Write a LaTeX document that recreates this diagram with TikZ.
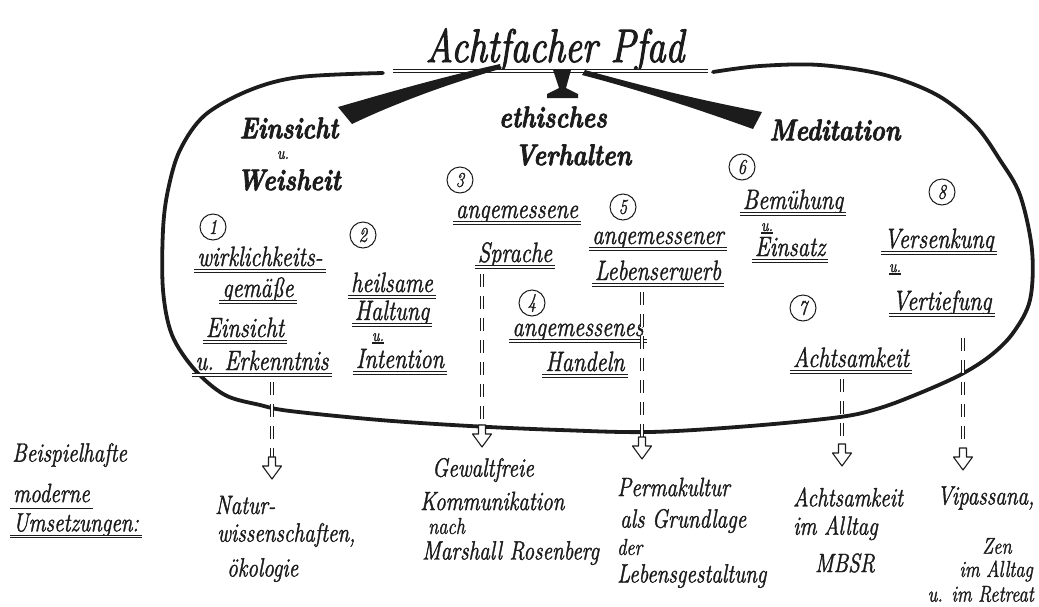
\documentclass[tikz,border=0pt]{standalone}
\usepackage{fontspec}
\newfontfamily\hand[FakeStretch=0.8, FakeBold=1.3]{Latin Modern Roman}
\newfontfamily\handb[FakeStretch=0.8, FakeBold=2.2]{Latin Modern Roman}
\usetikzlibrary{calc}
\definecolor{ink}{HTML}{1C1C1C}
\tikzset{
  x=1pt, y=-1pt,
  titletxt/.style={font=\handb\itshape\fontsize{47}{50}\selectfont, text=ink, inner sep=0pt},
  headtxt/.style={font=\handb\bfseries\itshape\fontsize{30}{33}\selectfont, text=ink, inner sep=0pt},
  itemtxt/.style={font=\hand\itshape\fontsize{28}{30}\selectfont, text=ink, inner sep=0pt},
  smalltxt/.style={font=\hand\itshape\fontsize{18}{20}\selectfont, text=ink, inner sep=0pt},
  bottomtxt/.style={font=\hand\itshape\fontsize{26.5}{28}\selectfont, text=ink, inner sep=0pt},
  bottomsm/.style={font=\hand\itshape\fontsize{23}{25}\selectfont, text=ink, inner sep=0pt},
  numcirc/.style={draw=ink, circle, minimum size=26pt, inner sep=0pt, line width=1pt,
     font=\hand\itshape\fontsize{21}{21}\selectfont, text=ink},
  ul/.style={draw=ink, double, double distance=1.2pt, line width=0.95pt},
  ulsingle/.style={draw=ink, line width=1.1pt},
  bigloop/.style={draw=ink, line width=3.8pt, line cap=round, line join=round},
  dasharr/.style={draw=ink, double, double distance=2.6pt, line width=0.9pt, dash pattern=on 13pt off 9pt},
  tipline/.style={draw=ink, line width=1.1pt, line join=round, fill=white},
  downhead/.pic={\path[tipline] (-3.5,0) -- (3.5,0) -- (3.5,9) -- (9.5,9) -- (0,22) -- (-9.5,9) -- (-3.5,9) -- cycle;},
}
\newcommand\ulof[1]{\draw[ul] ([xshift=-3pt,yshift=-5pt]#1.base west) -- ([xshift=3pt,yshift=-5pt]#1.base east);}
\begin{document}
\begin{tikzpicture}
\useasboundingbox (0,0) rectangle (1039,606);
\fill[white] (0,0) rectangle (1039,606);

% title
\node[titletxt, anchor=base] (title) at (555,62) {Achtfacher Pfad};
\coordinate (tl) at (393,71);
\coordinate (tr) at (708,71);
\draw[ul] (tl) -- (tr);

% big loop
\draw[bigloop] plot[smooth, tension=0.55] coordinates {
 (383,73) (300,77) (250,90) (205,115) (180,150) (168,190) (163,230) (163,290)
 (172,335) (195,370) (225,395) (260,405) (290,411) (380,420) (470,426) (560,430)
 (650,432) (750,426) (840,417) (880,408) (920,393) (960,375) (990,356) (1013,333)
 (1030,300) (1032,250) (1020,195) (1000,160) (975,125) (937,95) (885,75) (820,65)
 (760,66) (713,72)};

% three wedges
\fill[ink] (500,64) .. controls (430,80) and (380,95) .. (338,107) -- (352,124)
   .. controls (385,108) and (440,86) .. (500,69) -- cycle;
\fill[ink] (585,70) .. controls (650,88) and (700,100) .. (762,112) -- (753,129)
   .. controls (700,110) and (640,90) .. (582,75) -- cycle;
\fill[ink] (553,70) -- (571,70) -- (566,88) -- (578,94) -- (578,98) -- (547,98)
   -- (547,94) -- (559,88) -- cycle;

% headings
\node[headtxt] (h1a) at (289,128) {Einsicht};
\node[smalltxt] (h1b) at (283,155) {u.};
\node[headtxt] (h1c) at (289,180) {Weisheit};
\node[headtxt] (h2a) at (553,117) {ethisches};
\node[headtxt] (h2b) at (573,155) {Verhalten};
\node[headtxt] (h3a) at (835,130) {Meditation};

% numbers
\node[numcirc] (c1) at (213,227) {1};
\node[numcirc] (c2) at (363,235) {2};
\node[numcirc] (c3) at (460,180) {3};
\node[numcirc] (c4) at (532,303) {4};
\node[numcirc] (c5) at (623,207) {5};
\node[numcirc] (c6) at (742,167) {6};
\node[numcirc] (c7) at (803,308) {7};
\node[numcirc] (c8) at (942,192) {8};

% item 1
\node[itemtxt, anchor=base] (i1a) at (260,266) {wirklichkeits-}; \ulof{i1a}
\node[itemtxt, anchor=base] (i1b) at (258,297) {gemäße}; \ulof{i1b}
\node[itemtxt, anchor=base] (i1c) at (245,337) {Einsicht}; \ulof{i1c}
\node[itemtxt, anchor=base] (i1d) at (262,370) {u. Erkenntnis}; \ulof{i1d}
% item 2
\node[itemtxt, anchor=base] (i2a) at (392,292) {heilsame}; \ulof{i2a}
\node[itemtxt, anchor=base] (i2b) at (392,320) {Haltung}; \ulof{i2b}
\node[smalltxt, anchor=base] (i2c) at (378,341) {u.};
\draw[ulsingle] ([yshift=-2pt]i2c.base west) -- ([yshift=-2pt]i2c.base east);
\node[itemtxt, anchor=base] (i2d) at (400,368) {Intention}; \ulof{i2d}
% item 3
\node[itemtxt, anchor=base] (i3a) at (517,218) {angemessene}; \ulof{i3a}
\node[itemtxt, anchor=base] (i3b) at (515,262) {Sprache}; \ulof{i3b}
% item 5
\node[itemtxt, anchor=base] (i5a) at (658,244) {angemessener}; \ulof{i5a}
\node[itemtxt, anchor=base] (i5b) at (658,280) {Lebenserwerb}; \ulof{i5b}
% item 4
\node[itemtxt, anchor=base] (i4a) at (578,336) {angemessenes}; \ulof{i4a}
\node[itemtxt, anchor=base] (i4b) at (585,371) {Handeln}; \ulof{i4b}
% item 6
\node[itemtxt, anchor=base] (i6a) at (793,209) {Bemühung}; \ulof{i6a}
\node[smalltxt, anchor=base] (i6b) at (767,231) {u.};
\draw[ulsingle] ([yshift=-2pt]i6b.base west) -- ([yshift=-2pt]i6b.base east);
\node[itemtxt, anchor=base] (i6c) at (790,256) {Einsatz}; \ulof{i6c}
% item 8
\node[itemtxt, anchor=base] (i8a) at (939,248) {Versenkung}; \ulof{i8a}
\node[smalltxt, anchor=base] (i8b) at (895,272) {u.};
\draw[ulsingle] ([yshift=-2pt]i8b.base west) -- ([yshift=-2pt]i8b.base east);
\node[itemtxt, anchor=base] (i8c) at (942,310) {Vertiefung}; \ulof{i8c}
% item 7
\node[itemtxt, anchor=base] (i7a) at (851,367) {Achtsamkeit}; \ulof{i7a}

% arrow heads
\coordinate (a1) at (272,457);
\coordinate (a3) at (482,425);
\coordinate (a5) at (642,437);
\coordinate (a7) at (842,444);
\coordinate (a8) at (963,448);

% dashed connectors
\draw[dasharr] ([yshift=-12pt]i1d.base -| a1) -- (a1);
\draw[dasharr] ([yshift=-12pt]i3b.base -| a3) -- (a3);
\draw[dasharr] ([yshift=-12pt]i5b.base -| a5) -- (a5);
\draw[dasharr] ([yshift=-12pt]i7a.base -| a7) -- (a7);
\draw[dasharr] ([yshift=-28pt]i8c.base -| a8) -- (a8);
\pic at (a1) {downhead};
\pic at (a3) {downhead};
\pic at (a5) {downhead};
\pic at (a7) {downhead};
\pic at (a8) {downhead};

% left label
\node[bottomtxt, anchor=west] (b0a) at (12,455) {Beispielhafte};
\node[bottomtxt, anchor=west] (b0b) at (13,493) {moderne};
\ulof{b0b}
\node[bottomtxt, anchor=west] (b0c) at (13,525) {Umsetzungen:};
\ulof{b0c}

% bottom texts
\node[bottomtxt, anchor=west] (b1a) at (215,505) {Natur-};
\node[bottomtxt, anchor=west] (b1b) at (217,535) {wissenschaften,};
\node[bottomtxt, anchor=west] (b1c) at (227,570) {ökologie};

\node[bottomtxt, anchor=west] (b3a) at (432,470) {Gewaltfreie};
\node[bottomtxt, anchor=west] (b3b) at (420,501) {Kommunikation};
\node[bottomsm, anchor=west] (b3c) at (428,526) {nach};
\node[bottomtxt, anchor=west] (b3d) at (422,553) {Marshall Rosenberg};

\node[bottomtxt, anchor=west] (b5a) at (617,487) {Permakultur};
\node[bottomtxt, anchor=west] (b5b) at (620,521) {als Grundlage};
\node[bottomsm, anchor=west] (b5c) at (617,547) {der};
\node[bottomtxt, anchor=west] (b5d) at (617,576) {Lebensgestaltung};

\node[bottomtxt, anchor=west] (b7a) at (793,497) {Achtsamkeit};
\node[bottomtxt, anchor=west] (b7b) at (793,528) {im Alltag};
\node[bottomtxt] (b7c) at (845,563) {MBSR};

\node[bottomtxt, anchor=west] (b8a) at (937,498) {Vipassana,};
\node[bottomsm] (b8b) at (997,546) {Zen};
\node[bottomsm, anchor=east] (b8c) at (1033,571) {im Alltag};
\node[bottomsm, anchor=east] (b8d) at (1034,594) {u. im Retreat};
\end{tikzpicture}
\end{document}
